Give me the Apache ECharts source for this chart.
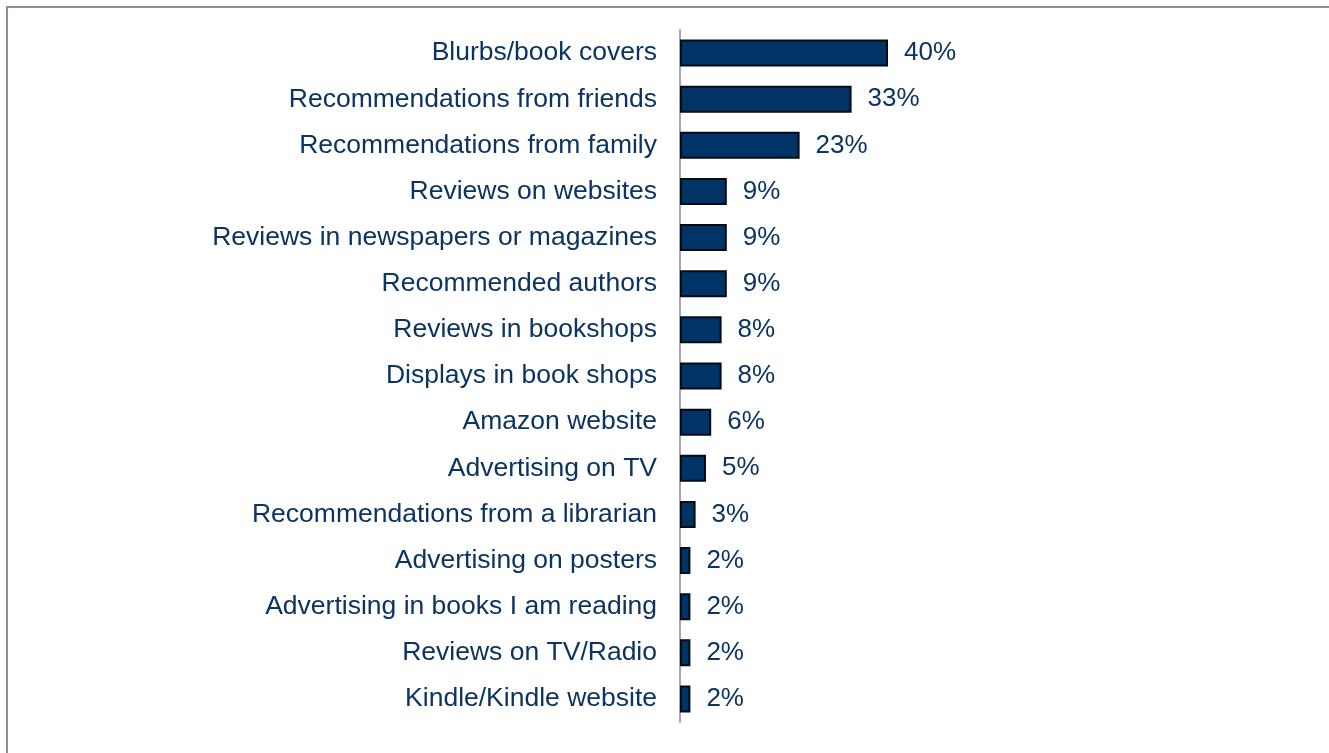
<!DOCTYPE html>
<html>
<head>
<meta charset="utf-8">
<script src="https://cdn.jsdelivr.net/npm/echarts@6/dist/echarts.min.js"></script>
<style>
  html, body { margin: 0; padding: 0; background: #ffffff; }
  #chart { width: 1329px; height: 753px; }
</style>
</head>
<body>
<div id="chart"></div>
<script>
// Sources of book discovery, share of respondents (%)
const categories = [
  'Blurbs/book covers',
  'Recommendations from friends',
  'Recommendations from family',
  'Reviews on websites',
  'Reviews in newspapers or magazines',
  'Recommended authors',
  'Reviews in bookshops',
  'Displays in book shops',
  'Amazon website',
  'Advertising on TV',
  'Recommendations from a librarian',
  'Advertising on posters',
  'Advertising in books I am reading',
  'Reviews on TV/Radio',
  'Kindle/Kindle website'
];
const values = [40, 33, 23, 9, 9, 9, 8, 8, 6, 5, 3, 2, 2, 2, 2];

const textColor = '#0b3463';
const chart = echarts.init(document.getElementById('chart'), null, { renderer: 'canvas' });

chart.setOption({
  animation: false,
  backgroundColor: '#ffffff',
  textStyle: { fontFamily: 'Liberation Sans, Arial, sans-serif' },
  graphic: [{
    type: 'rect',
    shape: { x: 7, y: 7, width: 1400, height: 800 },
    style: { fill: 'none', stroke: '#8b8fa4', lineWidth: 2 },
    silent: true
  }],
  grid: { left: 680, top: 30, height: 692, width: 260 },
  xAxis: {
    type: 'value',
    min: 0,
    max: 50,
    show: false
  },
  yAxis: {
    type: 'category',
    data: categories,
    inverse: true,
    axisLine: { show: true, lineStyle: { color: '#a3a6b8', width: 2 } },
    axisTick: { show: false },
    axisLabel: {
      color: textColor,
      fontSize: 26.5,
      margin: 23,
      fontFamily: 'Liberation Sans, Arial, sans-serif'
    },
    splitLine: { show: false }
  },
  series: [{
    type: 'bar',
    data: values,
    barWidth: 27,
    itemStyle: {
      color: '#003366',
      borderColor: '#050a14',
      borderWidth: 2
    },
    label: {
      show: true,
      position: 'right',
      distance: 16,
      formatter: '{c}%',
      color: textColor,
      fontSize: 26,
      fontFamily: 'Liberation Sans, Arial, sans-serif'
    }
  }]
});
</script>
</body>
</html>
